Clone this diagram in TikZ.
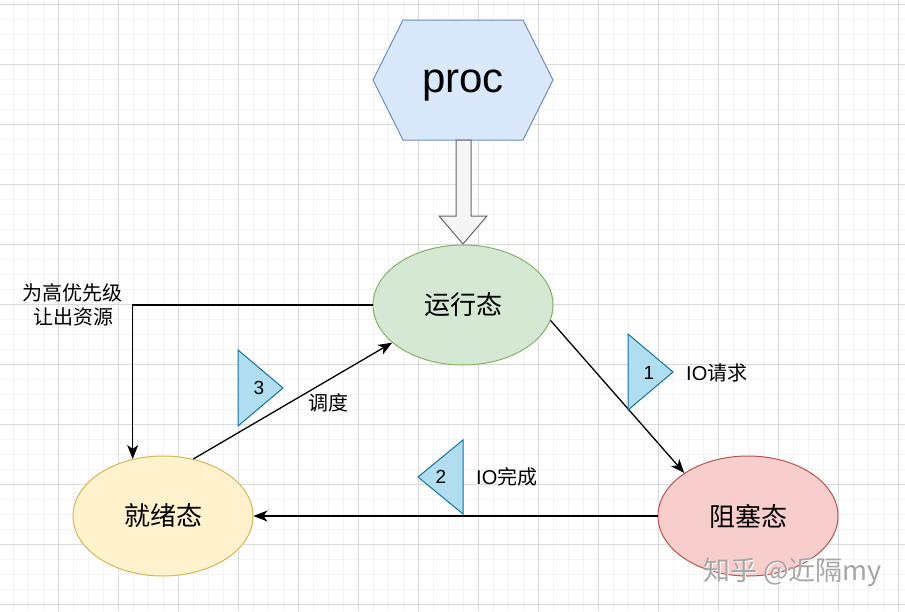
\documentclass[tikz,border=0pt]{standalone}
\usepackage{fontspec}
\setmainfont{Liberation Sans}
\newfontfamily\cjk{Noto Sans CJK SC}
\usetikzlibrary{shapes.geometric,arrows.meta}
\definecolor{gridminor}{HTML}{F3F3F3}
\definecolor{gridmajor}{HTML}{DADADA}
\definecolor{hexfill}{HTML}{DAE8FC}
\definecolor{hexdraw}{HTML}{6C8EBF}
\definecolor{runfill}{HTML}{D5E8D4}
\definecolor{rundraw}{HTML}{82B366}
\definecolor{readyfill}{HTML}{FFF2CC}
\definecolor{readydraw}{HTML}{D6B656}
\definecolor{blockfill}{HTML}{F8CECC}
\definecolor{blockdraw}{HTML}{B85450}
\definecolor{trifill}{HTML}{B1DDF0}
\definecolor{tridraw}{HTML}{10739E}
\definecolor{bigarrowfill}{HTML}{F5F5F5}
\definecolor{bigarrowdraw}{HTML}{666666}
\begin{document}
\begin{tikzpicture}[x=1pt,y=-1pt,
  minorline/.style={draw=gridminor,line width=0.8pt},
  majorline/.style={draw=gridmajor,line width=0.9pt},
  statenode/.style={ellipse,draw,line width=1pt,minimum width=180pt,minimum height=120pt,inner sep=0pt,font=\cjk\fontsize{26}{30}\selectfont},
  tri/.style={fill=trifill,draw=tridraw,line width=1pt,line join=miter},
  trinum/.style={inner sep=0pt,font=\fontsize{19}{22}\selectfont},
  lbl/.style={inner sep=0pt,font=\cjk\fontsize{20}{24}\selectfont},
  conn/.style={draw=black,line width=1.3pt,-{Stealth[length=14pt,width=11pt,inset=4pt]}}
]
\useasboundingbox (0,0) rectangle (905,611);
\fill[white] (0,0) rectangle (905,611);
% grid
\foreach \x in {13,28,...,905} \draw[minorline] (\x,0) -- (\x,611);
\foreach \y in {4,19,...,611} \draw[minorline] (0,\y) -- (905,\y);
\foreach \x in {58,118,...,905} \draw[majorline] (\x,0) -- (\x,611);
\foreach \y in {4,64,...,611} \draw[majorline] (0,\y) -- (905,\y);

% proc hexagon
\draw[fill=hexfill,draw=hexdraw,line width=1pt] (373,80) -- (403,20) -- (523,20) -- (553,80) -- (523,140) -- (403,140) -- cycle;
\node[inner sep=0pt,font=\fontsize{42}{48}\selectfont] (proc) at (463,86) {proc};

% big arrow
\draw[fill=bigarrowfill,draw=bigarrowdraw,line width=1pt,line join=miter] (456,140) -- (471,140) -- (471,216) -- (487,216) -- (463,244) -- (439,216) -- (456,216) -- cycle;

% states
\node[statenode,fill=runfill,draw=rundraw] (run) at (463,305) {运行态};
\node[statenode,fill=readyfill,draw=readydraw] (ready) at (163,516) {就绪态};
\node[statenode,fill=blockfill,draw=blockdraw] (block) at (748,516) {阻塞态};

% connectors
\draw[conn] (run.west) -| (ready.118);
\draw[conn] (ready.62) -- (run.208.5);
\draw[conn] (run.350) -- (block.146);
\draw[conn] (block.west) -- (ready.east);

% triangles
\draw[tri] (238,350) -- (283,388) -- (238,426) -- cycle;
\node[trinum] (n3) at (259,388) {3};
\draw[tri] (628,334) -- (673,372) -- (628,410) -- cycle;
\node[trinum] (n1) at (649,373) {1};
\draw[tri] (463,440) -- (418,477) -- (463,514) -- cycle;
\node[trinum] (n2) at (441,477) {2};

% labels
\node[lbl,anchor=west] (io1) at (686,373) {\fontspec{Liberation Sans}IO\cjk 请求};
\node[lbl,anchor=west] (io2) at (476,477) {\fontspec{Liberation Sans}IO\cjk 完成};
\node[lbl] (sched) at (328,403) {调度};
\node[lbl,align=center] (yield) at (73,305) {为高优先级\\让出资源};

% watermark
\node[inner sep=0pt,anchor=west,text=white,font=\cjk\fontsize{27}{30}\selectfont] (wm0) at (703.8,572.8) {知乎 @近隔my};
\node[inner sep=0pt,anchor=west,text=black!35,font=\cjk\fontsize{27}{30}\selectfont] (wm) at (703,572) {知乎 @近隔my};
\end{tikzpicture}
\end{document}
